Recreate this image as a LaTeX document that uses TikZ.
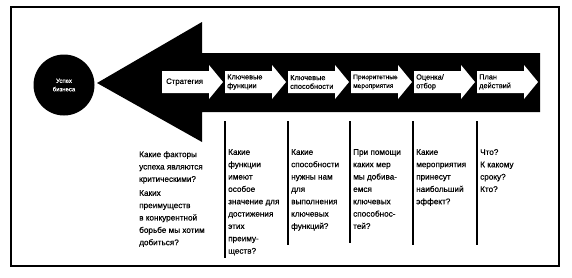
\documentclass[tikz,border=0pt]{standalone}
\usepackage{fontspec}
\setmainfont{Liberation Sans}[FakeBold=0.5]
\begin{document}
\begin{tikzpicture}[x=1bp,y=-1bp,
  lbl/.style={font=\fontsize{7.4}{8.8}\selectfont, align=left, anchor=west, inner sep=0pt, text=black},
  qtext/.style={font=\fontsize{8.2}{12.4}\selectfont, align=left, anchor=north west, inner sep=0pt},
  sepline/.style={line width=1.2bp},
  warrow/.pic={\fill[white] (0,-11) -- (47,-11) -- (47,-17) -- (61,0) -- (47,17) -- (47,11) -- (0,11) -- cycle;}]
\useasboundingbox (0,0) rectangle (572,277);
\fill[white] (0,0) rectangle (572,277);
\draw[line width=1.3bp] (11,7) rectangle (559,266);
% goal circle
\node[circle, fill=black, minimum size=61bp, inner sep=0pt, text=white,
      font=\fontsize{6}{8.5}\selectfont, align=center] (goal) at (64,85) {Успех\\бизнеса};
% big black arrow
\fill[black] (97,83) -- (202,22) -- (202,53) -- (540,53) -- (540,112) -- (202,112) -- (202,142) -- cycle;
% white step arrows
\pic at (162,82) {warrow};
\pic at (225,82) {warrow};
\pic at (288,82) {warrow};
\pic at (351,82) {warrow};
\pic at (414,82) {warrow};
\pic at (477,82) {warrow};
\node[lbl, font=\fontsize{7.8}{9}\selectfont] (s1) at (166,82) {Стратегия};
\node[lbl] (s2) at (227,82) {Ключевые\\функции};
\node[lbl] (s3) at (290,82) {Ключевые\\способности};
\node[lbl, font=\fontsize{6.6}{8.8}\selectfont] (s4) at (353,82) {Приоритетные\\мероприятия};
\node[lbl] (s5) at (416,82) {Оценка/\\отбор};
\node[lbl] (s6) at (479,82) {План\\действий};
% separator lines
\coordinate (l1a) at (225,121); \coordinate (l1b) at (225,258);
\coordinate (l2a) at (288,121); \coordinate (l2b) at (288,245);
\coordinate (l3a) at (350,121); \coordinate (l3b) at (350,243);
\coordinate (l4a) at (413,121); \coordinate (l4b) at (413,245);
\coordinate (l5a) at (477,121); \coordinate (l5b) at (477,245);
\draw[sepline] (l1a) -- (l1b);
\draw[sepline] (l2a) -- (l2b);
\draw[sepline] (l3a) -- (l3b);
\draw[sepline] (l4a) -- (l4b);
\draw[sepline] (l5a) -- (l5b);
% questions
\node[qtext] (q0) at (139,151) {Какие факторы\\успеха являются\\критическими?\\[1.6bp]Каких\\преимуществ\\в конкурентной\\борьбе мы хотим\\добиться?};
\node[qtext] (q1) at (228,149) {Какие\\функции\\имеют\\особое\\значение для\\достижения\\этих\\преиму-\\ществ?};
\node[qtext] (q2) at (291,149) {Какие\\способности\\нужны нам\\для\\выполнения\\ключевых\\функций?};
\node[qtext] (q3) at (353,149) {При помощи\\каких мер\\мы добива-\\емся\\ключевых\\способнос-\\тей?};
\node[qtext] (q4) at (416,149) {Какие\\мероприятия\\принесут\\наибольший\\эффект?};
\node[qtext] (q5) at (480,149) {Что?\\К какому\\сроку?\\Кто?};
\end{tikzpicture}
\end{document}
